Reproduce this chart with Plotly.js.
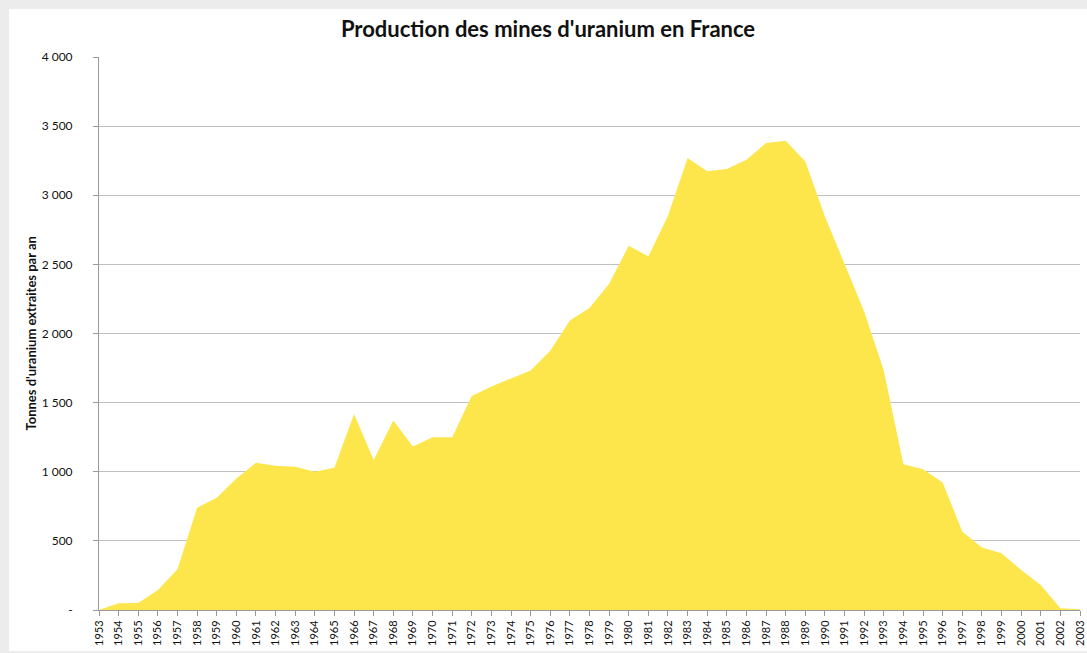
<!DOCTYPE html>
<html>
<head>
<meta charset="utf-8">
<script src="https://cdn.plot.ly/plotly-3.0.1.min.js"></script>
<style>
  html, body { margin: 0; padding: 0; background: #ececec; width: 1087px; height: 653px; overflow: hidden; }
  #chart { position: absolute; left: 9px; top: 9px; width: 1078px; height: 642px; background: #fff; }
</style>
</head>
<body>
<div id="chart"></div>
<script>
// Years (categories)
const years = [1953,1954,1955,1956,1957,1958,1959,1960,1961,1962,1963,1964,1965,1966,1967,1968,1969,1970,1971,1972,1973,1974,1975,1976,1977,1978,1979,1980,1981,1982,1983,1984,1985,1986,1987,1988,1989,1990,1991,1992,1993,1994,1995,1996,1997,1998,1999,2000,2001,2002,2003];
// Tonnes of uranium extracted per year
const tonnes = [0,48,50,145,294,740,812,952,1065,1044,1037,1000,1029,1418,1085,1370,1182,1249,1249,1548,1617,1674,1733,1875,2094,2184,2360,2635,2558,2852,3270,3173,3190,3257,3378,3395,3245,2847,2510,2160,1733,1054,1018,922,567,452,411,290,181,12,5];
// Y tick values and labels
const yTickVals = [0,500,1000,1500,2000,2500,3000,3500,4000];
const yTickText = ["-","500","1 000","1 500","2 000","2 500","3 000","3 500","4 000"];

const titleText = "Production des mines d'uranium en France";
const yTitleText = "Tonnes d'uranium extraites par an";

const FONT = "Lato, 'Open Sans', sans-serif";

const trace = {
  x: years,
  y: tonnes,
  type: 'scatter',
  mode: 'lines',
  fill: 'tozeroy',
  fillcolor: '#FDE64C',
  line: { width: 0, color: '#FDE64C' },
  hoverinfo: 'x+y'
};

const layout = {
  width: 1078,
  height: 642,
  paper_bgcolor: '#ffffff',
  plot_bgcolor: '#ffffff',
  margin: { l: 90, r: 7, t: 48, b: 41 },
  showlegend: false,
  font: { family: FONT, color: '#1a1a1a', size: 11 },
  title: {
    text: '<b>' + titleText + '</b>',
    font: { family: FONT, size: 22, color: '#111' },
    x: 0.5, xref: 'container', xanchor: 'center',
    y: 0.968, yref: 'container', yanchor: 'middle'
  },
  xaxis: {
    range: [1953, 2003],
    tickmode: 'array',
    tickvals: years,
    ticktext: years.map(String),
    tickangle: -90,
    ticks: 'outside',
    ticklen: 5,
    tickcolor: '#9a9a9a',
    tickfont: { family: FONT, size: 11, color: '#111' },
    showgrid: false,
    zeroline: false,
    showline: true,
    linecolor: '#9a9a9a',
    linewidth: 1,
    fixedrange: true
  },
  yaxis: {
    range: [0, 4000],
    tickmode: 'array',
    tickvals: yTickVals,
    ticktext: yTickText,
    ticks: 'outside',
    ticklen: 5,
    tickcolor: '#9a9a9a',
    ticklabelstandoff: 18,
    tickfont: { family: FONT, size: 12, color: '#111' },
    showgrid: true,
    gridcolor: '#c0c0c0',
    gridwidth: 1,
    zeroline: false,
    showline: true,
    linecolor: '#9a9a9a',
    linewidth: 1,
    fixedrange: true
  },
  annotations: [{
    text: '<b>' + yTitleText + '</b>',
    xref: 'paper', yref: 'paper',
    x: -0.0703, y: 0.5,
    xanchor: 'center', yanchor: 'middle',
    textangle: -90,
    showarrow: false,
    font: { family: FONT, size: 13, color: '#111' }
  }]
};

Plotly.newPlot('chart', [trace], layout, { displayModeBar: false, staticPlot: true });
</script>
</body>
</html>
